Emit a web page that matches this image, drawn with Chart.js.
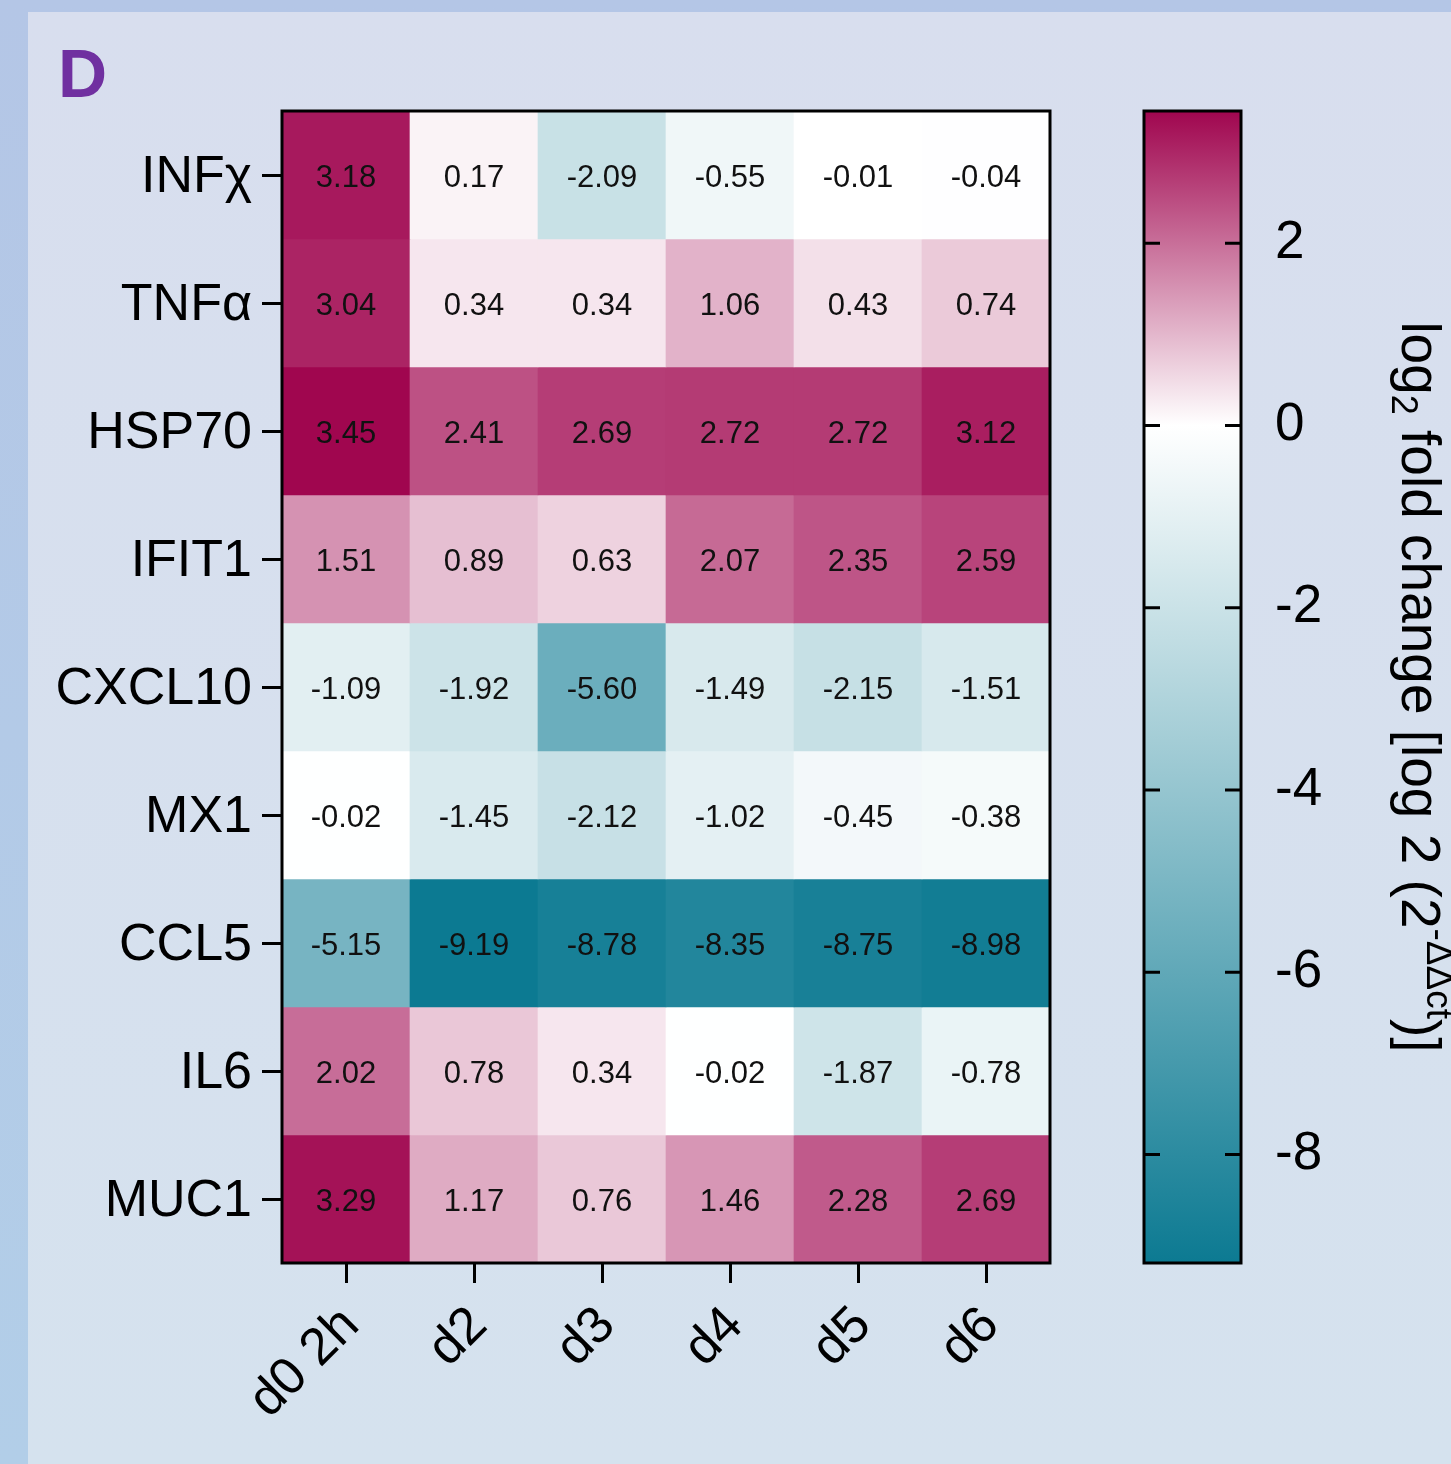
<!DOCTYPE html>
<html>
<head>
<meta charset="utf-8">
<script src="https://cdn.jsdelivr.net/npm/chart.js@4.4.1/dist/chart.umd.min.js"></script>
<style>
  html, body { margin: 0; padding: 0; }
  body {
    width: 1451px; height: 1464px; position: relative; overflow: hidden;
    background: linear-gradient(to bottom, #b4c6e6, #b2cee8);
    font-family: "Liberation Sans", Arial, sans-serif;
  }
  #panel {
    position: absolute; left: 28px; top: 12px; width: 1423px; height: 1452px;
    background: linear-gradient(to bottom, #d8deee, #d5e2ee);
  }
  #letter {
    position: absolute; left: 58px; top: 34px;
    font: bold 68px "Liberation Sans", Arial, sans-serif; color: #7030a0;
  }
  #heat { position: absolute; left: 0; top: 0; }
  #bar { position: absolute; left: 1100px; top: 0; }
</style>
</head>
<body>
<div id="panel"></div>
<div id="letter">D</div>
<canvas id="heat" width="1451" height="1464"></canvas>
<canvas id="bar" width="351" height="1464"></canvas>
<script>
// rows (genes) and columns (time points)
const genes = ["INFχ", "TNFα", "HSP70", "IFIT1", "CXCL10", "MX1", "CCL5", "IL6", "MUC1"];
const days = ["d0 2h", "d2", "d3", "d4", "d5", "d6"];

// log2 fold change per gene, one value per time point
const infx   = [3.18, 0.17, -2.09, -0.55, -0.01, -0.04];
const tnfa   = [3.04, 0.34, 0.34, 1.06, 0.43, 0.74];
const hsp70  = [3.45, 2.41, 2.69, 2.72, 2.72, 3.12];
const ifit1  = [1.51, 0.89, 0.63, 2.07, 2.35, 2.59];
const cxcl10 = [-1.09, -1.92, -5.60, -1.49, -2.15, -1.51];
const mx1    = [-0.02, -1.45, -2.12, -1.02, -0.45, -0.38];
const ccl5   = [-5.15, -9.19, -8.78, -8.35, -8.75, -8.98];
const il6    = [2.02, 0.78, 0.34, -0.02, -1.87, -0.78];
const muc1   = [3.29, 1.17, 0.76, 1.46, 2.28, 2.69];
const values = [infx, tnfa, hsp70, ifit1, cxcl10, mx1, ccl5, il6, muc1];

// colour bar
const cbTicks = [2, 0, -2, -4, -6, -8];
const cbMax = Math.max(...values.flat());
const cbMin = Math.min(...values.flat());

const FONT = '"Liberation Sans", Arial, sans-serif';
const hiCol = [160, 6, 79];
const midCol = [255, 255, 255];
const loCol = [12, 122, 146];

function heat(v) {
  let t, c;
  if (v >= 0) { t = Math.min(v / cbMax, 1); c = hiCol; }
  else { t = Math.min(v / cbMin, 1); c = loCol; }
  const r = Math.round(midCol[0] + (c[0] - midCol[0]) * t);
  const g = Math.round(midCol[1] + (c[1] - midCol[1]) * t);
  const b = Math.round(midCol[2] + (c[2] - midCol[2]) * t);
  return `rgb(${r}, ${g}, ${b})`;
}

// one floating-bar dataset per gene row
const heatSets = genes.map((g, i) => ({
  label: g,
  data: days.map(() => [i - 0.5, i + 0.5]),
  backgroundColor: days.map((d, j) => heat(values[i][j])),
  borderWidth: 0,
  barPercentage: 1,
  categoryPercentage: 1,
  grouped: false
}));

const cellLabels = {
  id: "cellLabels",
  afterDatasetsDraw(chart) {
    const { ctx, scales } = chart;
    ctx.save();
    ctx.font = `31px ${FONT}`;
    ctx.fillStyle = "#111";
    ctx.textAlign = "center";
    ctx.textBaseline = "middle";
    genes.forEach((g, i) => {
      days.forEach((d, j) => {
        ctx.fillText(values[i][j].toFixed(2), scales.x.getPixelForValue(j), scales.y.getPixelForValue(i) + 3);
      });
    });
    ctx.restore();
  }
};

const frame = {
  id: "frame",
  afterDraw(chart) {
    const a = chart.chartArea;
    const ctx = chart.ctx;
    ctx.save();
    ctx.strokeStyle = "#000";
    ctx.lineWidth = 3;
    ctx.strokeRect(a.left, a.top, a.right - a.left, a.bottom - a.top);
    ctx.restore();
  }
};

new Chart(document.getElementById("heat"), {
  type: "bar",
  data: { labels: days, datasets: heatSets },
  options: {
    responsive: false,
    animation: false,
    layout: { padding: { top: 111, right: 401, left: 0, bottom: 0 } },
    plugins: { legend: { display: false }, tooltip: { enabled: false } },
    scales: {
      x: {
        type: "category",
        afterFit(scale) { scale.height = 201; },
        grid: { offset: false, drawOnChartArea: false, tickLength: 20, color: "#000", lineWidth: 3 },
        border: { display: false },
        ticks: { color: "#000", font: { family: FONT, size: 52 }, minRotation: 45, maxRotation: 45, autoSkip: false, padding: 12, labelOffset: 5 }
      },
      y: {
        type: "linear",
        reverse: true,
        min: -0.5,
        max: 8.5,
        afterBuildTicks(scale) { scale.ticks = genes.map((g, i) => ({ value: i })); },
        afterFit(scale) { scale.width = 282; },
        grid: { drawOnChartArea: false, tickLength: 20, color: "#000", lineWidth: 3 },
        border: { display: false },
        ticks: { color: "#000", font: { family: FONT, size: 52 }, padding: 10, labelOffset: 3, callback: (v) => genes[v] }
      }
    }
  },
  plugins: [cellLabels, frame]
});

// colour bar: one floating bar with gradient fill, ticks and title
const barDecor = {
  id: "barDecor",
  afterDraw(chart) {
    const a = chart.chartArea;
    const ctx = chart.ctx;
    const y = chart.scales.y;
    ctx.save();
    ctx.strokeStyle = "#000";
    ctx.lineWidth = 3;
    cbTicks.forEach((v) => {
      const py = y.getPixelForValue(v);
      ctx.beginPath();
      ctx.moveTo(a.left, py); ctx.lineTo(a.left + 16, py);
      ctx.moveTo(a.right - 16, py); ctx.lineTo(a.right, py);
      ctx.stroke();
    });
    ctx.strokeRect(a.left, a.top, a.right - a.left, a.bottom - a.top);

    // rotated title with sub/superscripts
    const parts = [
      { t: "log", size: 55, dy: 0 },
      { t: "2", size: 36, dy: 10 },
      { t: " fold change [log 2 (2", size: 55, dy: 0 },
      { t: "-ΔΔct", size: 37, dy: -25 },
      { t: ")]", size: 55, dy: 0 }
    ];
    let total = 0;
    parts.forEach((p) => { ctx.font = `${p.size}px ${FONT}`; p.w = ctx.measureText(p.t).width; total += p.w; });
    ctx.translate(302, (a.top + a.bottom) / 2);
    ctx.rotate(Math.PI / 2);
    ctx.fillStyle = "#000";
    ctx.textBaseline = "alphabetic";
    let x = -total / 2;
    parts.forEach((p) => {
      ctx.font = `${p.size}px ${FONT}`;
      ctx.fillText(p.t, x, p.dy);
      x += p.w;
    });
    ctx.restore();
  }
};

new Chart(document.getElementById("bar"), {
  type: "bar",
  data: {
    labels: [""],
    datasets: [{
      data: [[cbMin, cbMax]],
      backgroundColor(c) {
        const chart = c.chart;
        if (!chart.chartArea) return heat(0);
        const y = chart.scales.y;
        const g = chart.ctx.createLinearGradient(0, y.getPixelForValue(cbMax), 0, y.getPixelForValue(cbMin));
        g.addColorStop(0, heat(cbMax));
        g.addColorStop(cbMax / (cbMax - cbMin), heat(0));
        g.addColorStop(1, heat(cbMin));
        return g;
      },
      borderWidth: 0,
      barPercentage: 1,
      categoryPercentage: 1
    }]
  },
  options: {
    responsive: false,
    animation: false,
    layout: { padding: { top: 111, right: 0, left: 44, bottom: 201 } },
    plugins: { legend: { display: false }, tooltip: { enabled: false } },
    scales: {
      x: { display: false },
      y: {
        position: "right",
        min: cbMin,
        max: cbMax,
        afterBuildTicks(scale) { scale.ticks = cbTicks.map((v) => ({ value: v })); },
        afterFit(scale) { scale.width = 210; },
        grid: { display: false, drawTicks: false },
        border: { display: false },
        ticks: { color: "#000", font: { family: FONT, size: 53 }, padding: 34 }
      }
    }
  },
  plugins: [barDecor]
});
</script>
</body>
</html>
